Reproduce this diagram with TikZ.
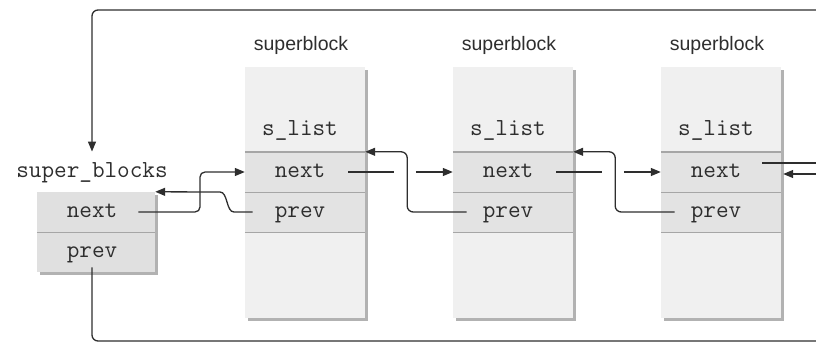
\documentclass[tikz,border=0pt]{standalone}
\usepackage{fontspec}
\setmainfont{Liberation Sans}
\usetikzlibrary{arrows.meta,shadows}
\definecolor{boxlight}{HTML}{F0F0F0}
\definecolor{boxrow}{HTML}{E3E3E3}
\definecolor{sbfill}{HTML}{E0E0E0}
\definecolor{shade}{HTML}{B2B2B2}
\definecolor{divider}{HTML}{A6A6A6}
\definecolor{ink}{HTML}{2E2E2E}
\begin{document}
\begin{tikzpicture}[x=1pt,y=-1pt,
  mono/.style={font=\ttfamily\fontsize{24.5}{24.5}\selectfont, text=ink, inner sep=0pt, text height=13.5pt, text depth=3pt},
  sans/.style={font=\fontsize{19.5}{19.5}\selectfont, text=ink, inner sep=0pt},
  body/.style={fill=boxlight, minimum width=120pt, minimum height=251pt, inner sep=0pt,
    general shadow={fill=shade, shadow xshift=3pt, shadow yshift=-3pt}},
  row/.style={fill=boxrow, minimum width=120pt, minimum height=40pt, inner sep=0pt},
  sbbody/.style={fill=sbfill, minimum width=118pt, minimum height=80pt, inner sep=0pt,
    general shadow={fill=shade, shadow xshift=3pt, shadow yshift=-3pt}},
  sbrow/.style={minimum width=118pt, minimum height=40pt, inner sep=0pt},
  conn/.style={draw=ink, line width=1.3pt},
  arr/.style={conn, -{Triangle[length=10pt,width=8pt]}},
  div/.style={draw=divider, line width=1.4pt}
]
\useasboundingbox (0,0) rectangle (816,345);

% super_blocks head
\node[mono] (sbl) at (92,172) {super\_blocks};
\node[sbbody] (sbb) at (96,232) {};
\node[sbrow] (sbn) at (96,212) {};
\node[sbrow] (sbp) at (96,252) {};
\draw[div] (sbn.south west) -- (sbn.south east);
\node[mono] (sbnt) at (92,212) {next};
\node[mono] (sbpt) at (92,252) {prev};

% superblocks
\foreach \i/\x in {1/305,2/513,3/721}{
  \node[body] (b\i) at (\x,192.5) {};
  \node[row] (b\i n) at (\x,172) {};
  \node[row] (b\i p) at (\x,212) {};
  \draw[div] (b\i n.north west) -- (b\i n.north east);
  \draw[div] (b\i n.south west) -- (b\i n.south east);
  \draw[div] (b\i p.south west) -- (b\i p.south east);
  \node[sans] (b\i l) at (\x-4,45) {superblock};
  \node[mono] (b\i s) at (\x-5,130) {s\_list};
  \node[mono] (b\i nt) at (\x-5,172) {next};
  \node[mono] (b\i pt) at (\x-5,212) {prev};
}

% outer loop
\coordinate (topR) at (816,10);
\coordinate (botR) at (816,341);
\draw[arr, rounded corners=6pt] (topR) -| ([yshift=12pt]sbl.north);
\draw[conn, rounded corners=6pt] ([yshift=-7pt]sbpt.south) |- (botR);

% head next -> first next
\draw[arr, rounded corners=5pt] ([xshift=21pt]sbnt.east) -| (200,172) -- (b1n.west);
% first prev -> head
\draw[arr] ([xshift=-22pt]b1pt.west) -- (234,212) .. controls (226,212) and (228,192) .. (220,192) -- (sbb.north east);

% next links
\draw[conn] ([xshift=23pt]b1nt.east) -- ++(46,0);
\draw[arr] ([xshift=-37pt]b2n.west) -- (b2n.west);
\draw[conn] ([xshift=23pt]b2nt.east) -- ++(46,0);
\draw[arr] ([xshift=-37pt]b3n.west) -- (b3n.west);

% prev links
\draw[arr, rounded corners=6pt] ([xshift=-16pt]b2pt.west) -| ([xshift=42pt]b1n.north east) -- (b1n.north east);
\draw[arr, rounded corners=6pt] ([xshift=-16pt]b3pt.west) -| ([xshift=42pt]b2n.north east) -- (b2n.north east);

% last next, and return
\coordinate (rightA) at (816,163);
\coordinate (rightB) at (816,174);
\draw[conn] ([xshift=21pt,yshift=9pt]b3nt.east) -- (rightA);
\draw[arr] (rightB) -- ([xshift=2pt,yshift=-2pt]b3n.east);
\end{tikzpicture}
\end{document}
